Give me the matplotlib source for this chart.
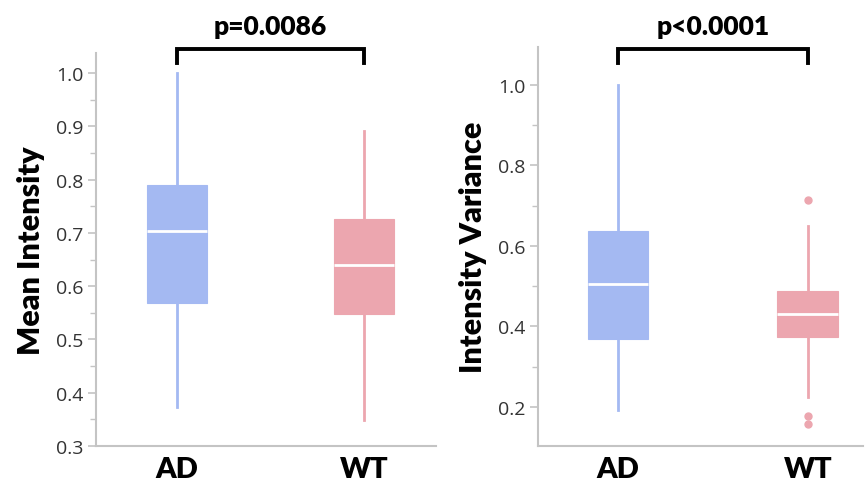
import matplotlib
matplotlib.use("Agg")
import matplotlib.pyplot as plt
from matplotlib.ticker import MultipleLocator

# ---- data ----
groups = ["AD", "WT"]

mean_q1 = [0.569, 0.548]
mean_med = [0.703, 0.640]
mean_q3 = [0.790, 0.727]
mean_lo = [0.373, 0.348]
mean_hi = [1.000, 0.891]
mean_fliers = [[], []]

var_q1 = [0.369, 0.374]
var_med = [0.506, 0.431]
var_q3 = [0.637, 0.488]
var_lo = [0.193, 0.225]
var_hi = [1.000, 0.650]
var_fliers = [[], [0.714, 0.177, 0.158]]

p_texts = ["p=0.0086", "p<0.0001"]
y_labels = ["Mean Intensity", "Intensity Variance"]

colors = ["#a4b9f2", "#eca6af"]
spine_col = "#c4c4c4"

fig = plt.figure(figsize=(8.66, 4.81), dpi=100)
ax1 = fig.add_axes([0.1109, 0.0707, 0.3926, 0.817])
ax2 = fig.add_axes([0.6212, 0.0707, 0.3753, 0.8295])


def make_stats(q1, med, q3, lo, hi, fl):
    return [dict(q1=q1[i], med=med[i], q3=q3[i], whislo=lo[i], whishi=hi[i],
                 fliers=fl[i], label=groups[i]) for i in range(len(groups))]


def draw(ax, stats, ylim, xlim, major, minor, ylabel, ptext, bracket_y, leg_y, text_y, ylabel_size):
    for i, st in enumerate(stats):
        c = colors[i]
        ax.bxp([st], positions=[i], widths=0.32, patch_artist=True, showcaps=False,
               boxprops=dict(facecolor=c, edgecolor=c, linewidth=0.8),
               medianprops=dict(color="white", linewidth=2.0),
               whiskerprops=dict(color=c, linewidth=2.0),
               flierprops=dict(marker="o", markerfacecolor=c, markeredgecolor=c, markersize=5),
               manage_ticks=False)
    ax.set_xlim(*xlim)
    ax.set_ylim(*ylim)
    ax.set_xticks(range(len(groups)))
    ax.set_xticklabels(groups, fontsize=21, fontweight="heavy", family="Lato")
    ax.tick_params(axis="x", length=0, pad=7)
    ax.yaxis.set_major_locator(MultipleLocator(major))
    ax.yaxis.set_minor_locator(MultipleLocator(minor))
    ax.yaxis.set_major_formatter(matplotlib.ticker.FormatStrFormatter("%.1f"))
    ax.tick_params(axis="y", which="major", length=6, width=1.2, color=spine_col,
                   labelsize=14, labelcolor="#333333", pad=3)
    ax.tick_params(axis="y", which="minor", length=4, width=1.0, color=spine_col)
    for lbl in ax.get_yticklabels():
        lbl.set_family("Open Sans")
    for s in ["top", "right"]:
        ax.spines[s].set_visible(False)
    for s in ["left", "bottom"]:
        ax.spines[s].set_color(spine_col)
        ax.spines[s].set_linewidth(1.5)
    ax.set_ylabel(ylabel, fontsize=ylabel_size, fontweight="heavy", family="Lato", labelpad=8)
    ax.plot([0, 0, 1, 1], [leg_y, bracket_y, bracket_y, leg_y], color="black",
            linewidth=2.8, clip_on=False, solid_joinstyle="miter")
    ax.text(0.5, text_y, ptext, ha="center", va="center", fontsize=19,
            fontweight="heavy", family="Lato", clip_on=False)


draw(ax1, make_stats(mean_q1, mean_med, mean_q3, mean_lo, mean_hi, mean_fliers),
     (0.3, 1.038), (-0.433, 1.385), 0.1, 0.05, y_labels[0], p_texts[0],
     1.045, 1.019, 1.088, 22)
draw(ax2, make_stats(var_q1, var_med, var_q3, var_lo, var_hi, var_fliers),
     (0.103, 1.094), (-0.421, 1.29), 0.2, 0.1, y_labels[1], p_texts[1],
     1.089, 1.055, 1.147, 22)

fig.savefig("out.png", dpi=100)
